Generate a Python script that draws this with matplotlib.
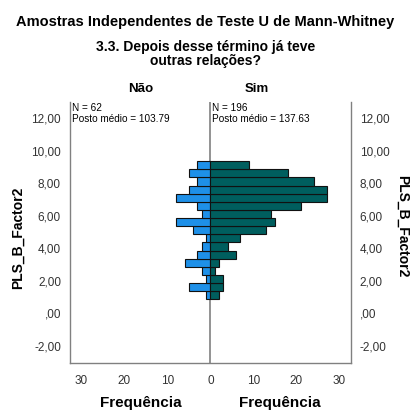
import matplotlib
matplotlib.use("Agg")
import matplotlib.pyplot as plt
from matplotlib.ticker import FuncFormatter, FixedLocator

plt.rcParams['font.family'] = ['Liberation Sans', 'DejaVu Sans']

# Data
bin_centers = [1.11, 1.61, 2.11, 2.61, 3.11, 3.61, 4.11, 4.61, 5.11, 5.61,
               6.11, 6.61, 7.11, 7.61, 8.11, 8.61, 9.11]
nao_counts = [1, 5, 1, 2, 6, 3, 2, 1, 4, 8, 2, 3, 8, 5, 3, 5, 3]
sim_counts = [2, 3, 3, 1, 2, 6, 4, 7, 13, 15, 14, 21, 27, 27, 24, 18, 9]
bin_width = 0.5
groups = ["Não", "Sim"]
n_values = [62, 196]
mean_ranks = [103.79, 137.63]
y_ticks = [-2, 0, 2, 4, 6, 8, 10, 12]
x_ticks = [-30, -20, -10, 0, 10, 20, 30]

W, H = 411, 412
fig = plt.figure(figsize=(W / 100, H / 100), dpi=100)
ax = fig.add_axes([70 / W, 1 - 363 / H, (350.7 - 70) / W, (363 - 102) / H])

ax.barh(bin_centers, [-c for c in nao_counts], height=bin_width,
        color="#1E90E8", edgecolor="#111111", linewidth=0.8)
ax.barh(bin_centers, sim_counts, height=bin_width,
        color="#005E5E", edgecolor="#111111", linewidth=0.8)

ax.set_xlim(-32.6, 32.6)
ax.set_ylim(-3.06, 13.0)
ax.axvline(0, color="#808080", linewidth=1.2, zorder=0.5)

ax.spines["top"].set_visible(False)
for s in ["bottom", "left", "right"]:
    ax.spines[s].set_color("#808080")
    ax.spines[s].set_linewidth(1.0)


def yfmt(v, p):
    s = ("%.2f" % v).replace(".", ",")
    if abs(v) < 1e-9:
        s = ",00"
    return s


ax.yaxis.set_major_locator(FixedLocator(y_ticks))
ax.yaxis.set_major_formatter(FuncFormatter(yfmt))
ax.tick_params(axis="y", which="both", left=False, right=False,
               labelleft=True, labelright=True, labelsize=8.5,
               labelcolor="#333333", pad=3)
ax.xaxis.set_major_locator(FixedLocator(x_ticks))
ax.xaxis.set_major_formatter(FuncFormatter(lambda v, p: "%d" % abs(v)))
ax.tick_params(axis="x", bottom=False, labelsize=8.5, labelcolor="#333333", pad=5)

fig.text(0.5, 1 - 22 / H, "Amostras Independentes de Teste U de Mann-Whitney",
         ha="center", va="center", fontsize=10.5, fontweight="bold")
fig.text(0.5, 1 - 54 / H, "3.3. Depois desse término já teve\noutras relações?",
         ha="center", va="center", fontsize=10, fontweight="bold", linespacing=0.95)
fig.text(141 / W, 1 - 89 / H, groups[0], ha="center", va="center",
         fontsize=9.5, fontweight="bold")
fig.text(257 / W, 1 - 89 / H, groups[1], ha="center", va="center",
         fontsize=9.5, fontweight="bold")

for x0, n, mr in [(72, n_values[0], mean_ranks[0]), (212, n_values[1], mean_ranks[1])]:
    fig.text(x0 / W, 1 - 108 / H, "N = %d" % n, ha="left", va="center", fontsize=7.2)
    fig.text(x0 / W, 1 - 119 / H, "Posto médio = %.2f" % mr, ha="left", va="center", fontsize=7.2)

fig.text(141 / W, 1 - 403 / H, "Frequência", ha="center", va="center",
         fontsize=11, fontweight="bold")
fig.text(280 / W, 1 - 403 / H, "Frequência", ha="center", va="center",
         fontsize=11, fontweight="bold")
fig.text(18 / W, 1 - 238 / H, "PLS_B_Factor2", ha="center", va="center",
         rotation=90, fontsize=10, fontweight="bold")
fig.text(402 / W, 1 - 226 / H, "PLS_B_Factor2", ha="center", va="center",
         rotation=-90, fontsize=10, fontweight="bold")

fig.savefig("out.png", dpi=100)
